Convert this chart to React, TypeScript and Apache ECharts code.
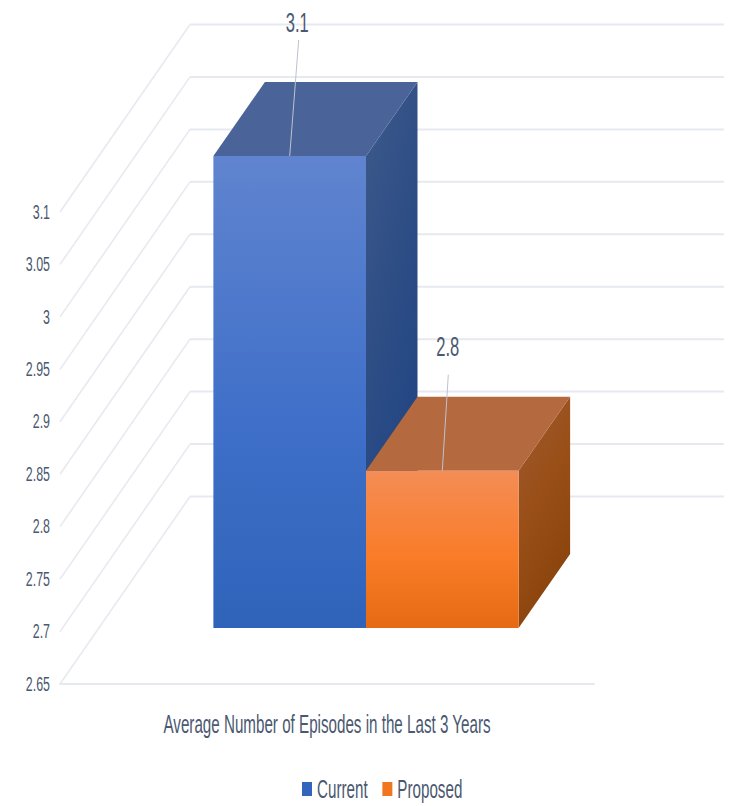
import React, { useEffect, useRef } from "react";
import * as echarts from "echarts";

const categories = ["Average Number of Episodes in the Last 3 Years"];
const seriesNames = ["Current", "Proposed"];
const currentValues = [3.1];
const proposedValues = [2.8];
const yTicks = [2.65, 2.7, 2.75, 2.8, 2.85, 2.9, 2.95, 3, 3.05, 3.1];

const FONT = '"Liberation Sans", sans-serif';
const TEXT_SQUEEZE_X = 0.69;
const TEXT_STRETCH_Y = 1.15;
const TEXT = "#4a5870";
const GRID = "#e6e9f0";
const WALL_DX = 130;
const WALL_DY = 187.5;
const FRONT_DX = 39;
const FRONT_DY = 56;
const DEPTH_DX = 51.5;
const DEPTH_DY = 74;
const BAR_RATIO = 0.2858;

const vgrad = (stops: [number, string][]) =>
  new echarts.graphic.LinearGradient(0, 0, 0, 1, stops.map(([offset, color]) => ({ offset, color })));
const dgrad = (stops: string[]) =>
  new echarts.graphic.LinearGradient(
    0,
    0,
    0.4,
    1,
    stops.map((color, i) => ({ offset: i / (stops.length - 1), color }))
  );

const palettes = [
  {
    legend: "#3266bd",
    front: [[0, "#6084cf"], [0.55, "#4070c9"], [1, "#2f63ba"]] as [number, string][],
    top: "#4a6399",
    side: ["#3f5a8b", "#2d4d85", "#1f4483"],
    leader: { dx: 9, dy: -116, labelDx: 7.5, labelDy: -134 },
  },
  {
    legend: "#f0771f",
    front: [[0, "#f48d56"], [0.55, "#f97c28"], [1, "#e66a13"]] as [number, string][],
    top: "#b5693f",
    side: ["#9c5a31", "#9a4f18", "#8a430c"],
    leader: { dx: 6, dy: -96, labelDx: 5.5, labelDy: -124 },
  },
];

const wallItem = (params: any, api: any) => {
  const value = api.value(0);
  const [, y] = api.coord([0, value]);
  const cs = params.coordSys;
  const x0 = cs.x;
  const w = cs.width;
  return {
    type: "group",
    silent: true,
    children: [
      {
        type: "line",
        shape: { x1: x0, y1: y, x2: x0 + WALL_DX, y2: y - WALL_DY },
        style: { stroke: GRID, lineWidth: 1.5 },
      },
      {
        type: "line",
        shape: { x1: x0 + WALL_DX, y1: y - WALL_DY, x2: x0 + WALL_DX + w, y2: y - WALL_DY },
        style: { stroke: GRID, lineWidth: 2 },
      },
    ],
  };
};

const barItem = (index: number) => (params: any, api: any) => {
  const p = palettes[index];
  const [cx, yTop] = api.coord([api.value(0), api.value(1)]);
  const [, yBase] = api.coord([api.value(0), yTicks[0]]);
  const width = api.size([1, 0])[0] * BAR_RATIO;
  const left = cx + FRONT_DX + (index === 0 ? -width : 0);
  const right = left + width;
  const top = yTop - FRONT_DY;
  const bottom = yBase - FRONT_DY;
  const mid = (left + right) / 2;
  const face = (points: number[][], fill: any) => ({
    type: "polygon",
    shape: { points },
    style: { fill },
  });
  return {
    type: "group",
    children: [
      face(
        [
          [right, top],
          [right + DEPTH_DX, top - DEPTH_DY],
          [right + DEPTH_DX, bottom - DEPTH_DY],
          [right, bottom],
        ],
        dgrad(p.side)
      ),
      face(
        [
          [left, top],
          [left + DEPTH_DX, top - DEPTH_DY],
          [right + DEPTH_DX, top - DEPTH_DY],
          [right, top],
        ],
        p.top
      ),
      face(
        [
          [left, top],
          [right, top],
          [right, bottom],
          [left, bottom],
        ],
        vgrad(p.front)
      ),
      {
        type: "line",
        shape: { x1: mid, y1: top, x2: mid + p.leader.dx, y2: top + p.leader.dy },
        style: { stroke: "#bcc3cf", lineWidth: 1 },
      },
      {
        type: "text",
        x: mid + p.leader.labelDx,
        y: top + p.leader.labelDy,
        style: {
          text: String(api.value(1)),
          fill: TEXT,
          font: `24px ${FONT}`,
          align: "center",
          verticalAlign: "middle",
        },
      },
    ],
  };
};

// The reference's lettering is a squeezed, tall face: reshape every SVG text about its anchor.
const squeezeTexts = (root: HTMLElement) => {
  root.querySelectorAll("svg text").forEach((node) => {
    if (node.getAttribute("data-squeezed")) return;
    const x = parseFloat(node.getAttribute("x") || "0");
    const y = parseFloat(node.getAttribute("y") || "0");
    const base = node.getAttribute("transform") || "";
    node.setAttribute(
      "transform",
      `${base} translate(${x} ${y}) scale(${TEXT_SQUEEZE_X} ${TEXT_STRETCH_Y}) translate(${-x} ${-y})`
    );
    node.setAttribute("data-squeezed", "1");
  });
};

export default function App() {
  const ref = useRef<HTMLDivElement>(null);
  useEffect(() => {
    document.body.style.margin = "0";
    const chart = echarts.init(ref.current!, undefined, { renderer: "svg" });
    chart.on("finished", () => squeezeTexts(ref.current!));
    chart.setOption({
      animation: false,
      backgroundColor: "#ffffff",
      grid: { left: 60, top: 212, width: 534, height: 472 },
      legend: {
        data: seriesNames,
        left: 297,
        top: 773,
        icon: "rect",
        itemWidth: 10,
        itemHeight: 14,
        itemGap: -8,
        textStyle: { color: TEXT, fontFamily: FONT, fontSize: 22 },
      },
      xAxis: {
        type: "category",
        data: categories,
        axisTick: { show: false },
        axisLine: { show: true, lineStyle: { color: GRID, width: 2 } },
        axisLabel: { color: TEXT, fontFamily: FONT, fontSize: 22, margin: 29 },
      },
      yAxis: {
        type: "value",
        min: yTicks[0],
        max: yTicks[yTicks.length - 1],
        interval: 0.05,
        axisLine: { show: false },
        axisTick: { show: false },
        splitLine: { show: false },
        axisLabel: {
          color: TEXT,
          fontFamily: FONT,
          fontSize: 18,
          margin: 10,
          formatter: (v: number) => String(+v.toFixed(2)),
        },
      },
      series: [
        {
          name: "wall",
          type: "custom",
          silent: true,
          encode: { y: 0 },
          data: yTicks.map((t) => [t]),
          renderItem: wallItem,
          z: 1,
        },
        {
          name: seriesNames[0],
          type: "custom",
          encode: { x: 0, y: 1 },
          itemStyle: { color: palettes[0].legend },
          data: currentValues.map((v, i) => [i, v]),
          renderItem: barItem(0),
          z: 2,
        },
        {
          name: seriesNames[1],
          type: "custom",
          encode: { x: 0, y: 1 },
          itemStyle: { color: palettes[1].legend },
          data: proposedValues.map((v, i) => [i, v]),
          renderItem: barItem(1),
          z: 3,
        },
      ],
    });
    squeezeTexts(ref.current!);
    return () => chart.dispose();
  }, []);
  return <div ref={ref} style={{ position: "absolute", left: 0, top: 0, width: 735, height: 806 }} />;
}
